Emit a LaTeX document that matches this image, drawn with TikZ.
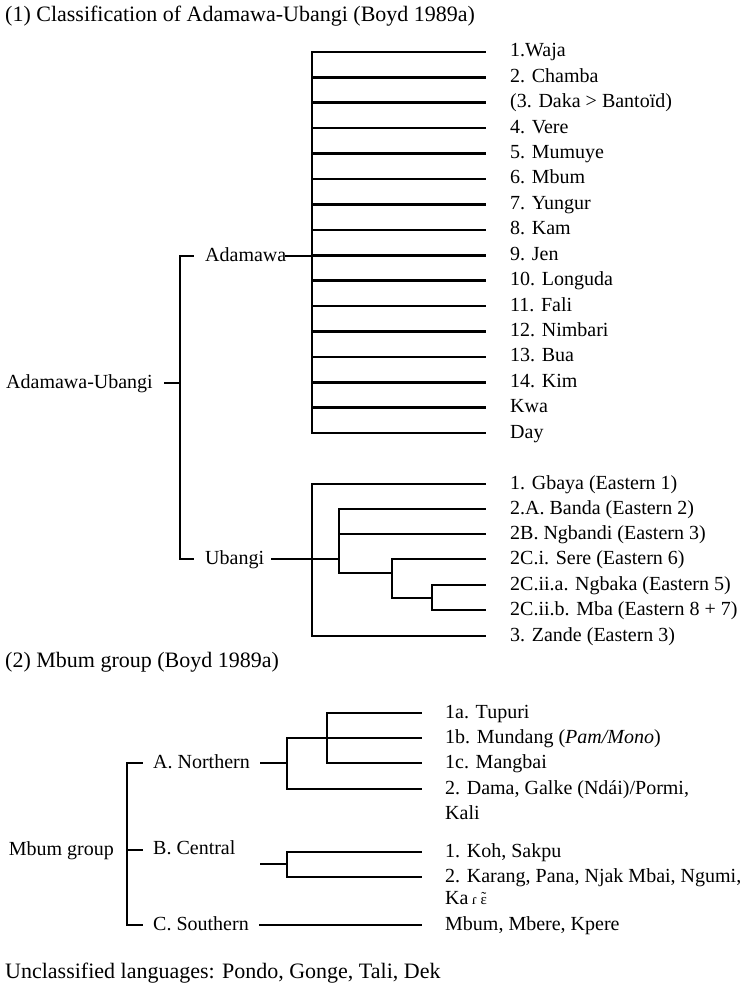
\documentclass[tikz,border=0pt]{standalone}
\usepackage{fontspec}
\setmainfont{Liberation Serif}
\usetikzlibrary{positioning}
\tikzset{branch/.style={line width=2.6pt, line cap=rect},
         lab/.style={inner sep=0pt, anchor=west, font=\fontsize{20}{25}\selectfont, text height=14pt, text depth=4pt},
         leaf/.style={lab},
         caption/.style={lab, font=\fontsize{22}{26}\selectfont}}

\begin{document}
\begin{tikzpicture}[x=1pt,y=-1pt]
        \useasboundingbox (0,0) rectangle (742,987);

        % (1) Adamawa-Ubangi
        \node[caption](ttl1)at(5,17){(1) Classification of Adamawa-Ubangi (Boyd 1989a)};
        \node[lab,anchor=east](au)at(153,383){Adamawa-Ubangi};
        \node[lab](ada)at(205,256){Adamawa};
        \node[lab](uba)at(205,559){Ubangi};

        \coordinate(brt)at(180,256);
        \coordinate(brm)at(180,383);
        \coordinate(brb)at(180,559);
        \draw[branch]([xshift=13pt]brt)--(brt)--(brb)--([xshift=13pt]brb);
        \draw[branch]([xshift=12pt]au.east)--(brm);

        \coordinate(adt)at(312,52);
        \coordinate(adb)at(312,433);
        \draw[branch](adt)--(adb);
        \draw[branch](ada.east)--(312,256);
        \foreach \y/\t [count=\i] in {52/{1.Waja},77.4/{2. Chamba},102.8/{(3. Daka > Bantoïd)},128.2/{4. Vere},
                153.6/{5. Mumuye},179/{6. Mbum},204.4/{7. Yungur},229.8/{8. Kam},255.2/{9. Jen},
                280.6/{10. Longuda},306/{11. Fali},331.4/{12. Nimbari},356.8/{13. Bua},382.2/{14. Kim},
                407.6/{Kwa},433/{Day}}{
            \node[leaf](a\i)at(510,\y){\t};
            \draw[branch](312,\y)--([xshift=-25pt]a\i.west);
        }

        % Ubangi
        \node[leaf](u1)at(510,484){1. Gbaya (Eastern 1)};
        \node[leaf](u2)at(510,509){2.A. Banda (Eastern 2)};
        \node[leaf](u3)at(510,534){2B. Ngbandi (Eastern 3)};
        \node[leaf](u4)at(510,559){2C.i. Sere (Eastern 6)};
        \node[leaf](u5)at(510,585){2C.ii.a. Ngbaka (Eastern 5)};
        \node[leaf](u6)at(510,610){2C.ii.b. Mba (Eastern 8 + 7)};
        \node[leaf](u7)at(510,636){3. Zande (Eastern 3)};

        \coordinate(ub1)at(312,484);
        \coordinate(ub2)at(339,509);
        \coordinate(ub3)at(392,559);
        \coordinate(ub4)at(432,585);
        \draw[branch]([xshift=-25pt]u1.west)--(ub1)--(312,636)--([xshift=-25pt]u7.west);
        \draw[branch]([xshift=8pt]uba.east)--(339,559);
        \draw[branch]([xshift=-25pt]u2.west)--(ub2)--(339,573)--(392,573);
        \draw[branch](339,534)--([xshift=-25pt]u3.west);
        \draw[branch]([xshift=-25pt]u4.west)--(ub3)--(392,598)--(432,598);
        \draw[branch]([xshift=-25pt]u5.west)--(ub4)--(432,610)--([xshift=-25pt]u6.west);

        % (2) Mbum group
        \node[caption](ttl2)at(5,662){(2) Mbum group (Boyd 1989a)};
        \node[lab,anchor=east](mg)at(114,850){Mbum group};
        \node[lab](na)at(153,763){A. Northern};
        \node[lab](nb)at(153,849){B. Central};
        \node[lab](nc)at(153,925){C. Southern};

        \coordinate(mbt)at(127,763);
        \coordinate(mbm)at(127,850);
        \coordinate(mbb)at(127,925);
        \draw[branch]([xshift=15pt]mbt)--(mbt)--(mbb)--([xshift=15pt]mbb);
        \draw[branch](mbm)--([xshift=15pt]mbm);

        \node[leaf](m1)at(445,713){1a. Tupuri};
        \node[leaf](m2)at(445,738){1b. Mundang (\textit{Pam/Mono})};
        \node[leaf](m3)at(445,763){1c. Mangbai};
        \node[leaf](m4)at(445,789){2. Dama, Galke (Ndái)/Pormi,};
        \node[leaf](m4b)at(445,814){Kali};
        \node[leaf](m5)at(445,852){1. Koh, Sakpu};
        \node[leaf](m6)at(445,877){2. Karang, Pana, Njak Mbai, Ngumi,};
        \node[leaf](m6b)at(445,899){Ka\,{\fontsize{15}{15}\selectfont ɾ \ooalign{ɛ\cr\hidewidth\raisebox{1.5pt}{˜}\hidewidth}}};
        \node[leaf](m7)at(445,925){Mbum, Mbere, Kpere};

        \coordinate(ja)at(287,763);
        \coordinate(jb)at(327,713);
        \draw[branch]([xshift=11pt]na.east)--(ja);
        \draw[branch]([xshift=-24pt]m2.west)--(287,738)--(287,789)--([xshift=-24pt]m4.west);
        \draw[branch]([xshift=-24pt]m1.west)--(jb)--(327,763)--([xshift=-24pt]m3.west);

        \coordinate(jc)at(287,864);
        \draw[branch](261,864)--(jc);
        \draw[branch]([xshift=-24pt]m5.west)--(287,852)--(287,877)--([xshift=-24pt]m6.west);
        \draw[branch]([xshift=11pt]nc.east)--([xshift=-24pt]m7.west);

        \node[caption](unc)at(5,973){Unclassified languages: Pondo, Gonge, Tali, Dek};
\end{tikzpicture}
\end{document}
